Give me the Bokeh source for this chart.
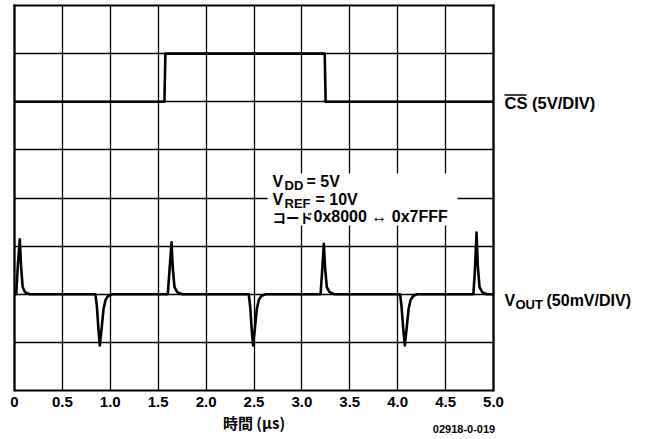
from bokeh.plotting import figure
from bokeh.models import Range1d, FixedTicker, Label, BoxAnnotation, Arrow, Grid
from bokeh.embed import file_html
from bokeh.resources import INLINE

# ---- data (x in microseconds, y in screen divisions) ----
tick_values = [0, 0.5, 1.0, 1.5, 2.0, 2.5, 3.0, 3.5, 4.0, 4.5, 5.0]
tick_labels = ["0", "0.5", "1.0", "1.5", "2.0", "2.5", "3.0", "3.5", "4.0", "4.5", "5.0"]
div_lines = [1, 2, 3, 4, 5, 6, 7]

cs_time = [0.0, 1.565, 1.575, 3.238, 3.248, 5.0]
cs_level = [6.0, 6.0, 7.0, 7.0, 6.0, 6.0]

vout_time = [0.0, 0.018, 0.035, 0.055, 0.068, 0.085, 0.11, 0.16,
             0.845, 0.86, 0.875, 0.89, 0.91, 0.93, 0.95, 0.975, 1.02,
             1.60, 1.62, 1.639, 1.652, 1.67, 1.70, 1.75,
             2.445, 2.46, 2.475, 2.49, 2.51, 2.53, 2.55, 2.575, 2.62,
             3.195, 3.212, 3.229, 3.242, 3.26, 3.29, 3.34,
             4.025, 4.04, 4.057, 4.074, 4.094, 4.114, 4.134, 4.16, 4.2,
             4.79, 4.806, 4.823, 4.836, 4.854, 4.884, 4.93, 5.0]
vout_level = [2.0, 2.0, 2.6, 3.14, 2.6, 2.15, 2.04, 2.0,
              2.0, 1.75, 1.3, 0.935, 1.3, 1.7, 1.88, 1.96, 2.0,
              2.0, 2.55, 3.08, 2.55, 2.15, 2.04, 2.0,
              2.0, 1.75, 1.3, 0.935, 1.3, 1.7, 1.88, 1.96, 2.0,
              2.0, 2.5, 3.05, 2.55, 2.15, 2.04, 2.0,
              2.0, 1.75, 1.3, 0.935, 1.3, 1.7, 1.88, 1.96, 2.0,
              2.0, 2.5, 3.28, 2.6, 2.15, 2.04, 2.0, 2.0]

# ---- layout helpers: the frame covers the whole canvas; grid box is 14..493 x 5..390 px ----
W, H = 648, 439
FL, FR, FT, FB = 14, 493, 5, 390
SX = (FR - FL) / 5.0
SY = (FB - FT) / 8.0


def px(x):
    return (x - FL) / SX


def py(y):
    return (FB - y) / SY


FONT = "Liberation Sans"

p = figure(width=W, height=H, output_backend="svg", toolbar_location=None,
           x_range=Range1d(px(0), px(W)), y_range=Range1d(py(H), py(0)),
           min_border_left=0, min_border_right=0, min_border_top=0, min_border_bottom=0)

p.background_fill_color = "white"
p.border_fill_color = "white"
p.outline_line_color = None

p.yaxis.visible = False
ax = p.xaxis[0]
ax.fixed_location = 0
ax.bounds = (0, 5)
ax.ticker = FixedTicker(ticks=tick_values)
ax.major_label_overrides = dict(zip(tick_values, tick_labels))
ax.axis_line_color = "black"
ax.axis_line_width = 2.2
ax.major_tick_line_color = None
ax.minor_tick_line_color = None
ax.major_label_standoff = 0
ax.major_label_text_font = FONT
ax.major_label_text_font_style = "bold"
ax.major_label_text_font_size = "15px"
ax.major_label_text_color = "black"
ax.axis_label = "時間 (μs)"
ax.axis_label_text_font = "Noto Sans CJK JP"
ax.axis_label_text_font_style = "bold"
ax.axis_label_text_font_size = "15px"
ax.axis_label_text_color = "black"
ax.axis_label_standoff = 2

xg = p.xgrid[0]
xg.ticker = FixedTicker(ticks=tick_values)
xg.bounds = (0, 5)
xg.cross_bounds = (0, 8)
yg = p.ygrid[0]
yg.ticker = FixedTicker(ticks=div_lines)
yg.bounds = (0, 8)
yg.cross_bounds = (0, 5)
for g in (xg, yg):
    g.grid_line_color = "black"
    g.grid_line_width = 1.3
    g.grid_line_alpha = 1.0

# heavier border of the graticule
p.add_layout(Grid(dimension=0, ticker=FixedTicker(ticks=[0, 5]), bounds=(0, 5), cross_bounds=(0, 8),
                  grid_line_color="black", grid_line_width=2.2, grid_line_cap="square"))
p.add_layout(Grid(dimension=1, ticker=FixedTicker(ticks=[8]), bounds=(0, 8), cross_bounds=(0, 5),
                  grid_line_color="black", grid_line_width=2.2, grid_line_cap="square"))

p.line(cs_time, cs_level, line_color="black", line_width=2.6, line_join="round")
p.line(vout_time, vout_level, line_color="black", line_width=2.6, line_join="round")

# white box behind the conditions text
p.add_layout(BoxAnnotation(left=px(267), right=px(457), top=py(173), bottom=py(225),
                           fill_color="white", fill_alpha=1.0, line_color=None))


def lab(x, y, text, size, font=FONT, align="left", style="bold"):
    p.add_layout(Label(x=px(x), y=py(y), text=text, text_font=font,
                       text_font_size=f"{size}px", text_font_style=style,
                       text_color="black", text_baseline="middle", text_align=align))


# conditions
lab(272, 181, "V", 16)
lab(284, 185, "DD", 13)
lab(306, 181, "= 5V", 16)
lab(272, 199, "V", 16)
lab(284, 203, "REF", 13)
lab(315, 199, "= 10V", 16)
lab(272, 216, "コード", 13.5, font="Noto Sans CJK JP")
lab(313, 216, "0x8000 ↔ 0x7FFF", 16)

# right-side channel labels
lab(504, 102.5, "CS (5V/DIV)", 16.5)
p.add_layout(Arrow(end=None, x_start=px(504), y_start=py(94.5), x_end=px(526), y_end=py(94.5),
                   line_color="black", line_width=1.5))
lab(504, 299.5, "V", 16)
lab(515, 303.5, "OUT", 13)
lab(546, 299.5, "(50mV/DIV)", 16)

# figure code
lab(463.5, 428, "02918-0-019", 11, align="center")

open("out.html", "w").write(file_html(p, INLINE))
